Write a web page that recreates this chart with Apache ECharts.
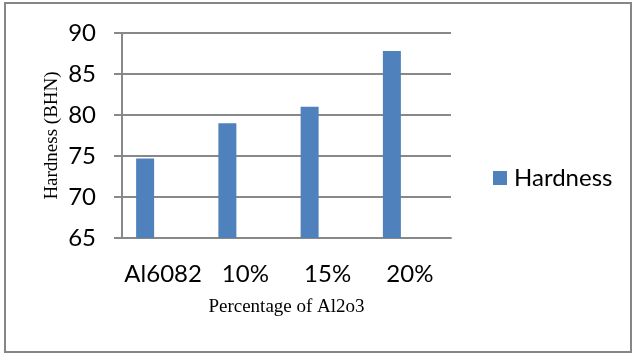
<!DOCTYPE html>
<html>
<head>
<meta charset="utf-8">
<script src="https://cdn.jsdelivr.net/npm/echarts@6/dist/echarts.min.js"></script>
<style>
html,body{margin:0;padding:0;background:#fff;}
#chart{width:636px;height:354px;}
</style>
</head>
<body>
<div id="chart"></div>
<script>
const categories = ['Al6082', '10%', '15%', '20%'];
const hardness = [74.7, 79.0, 81.0, 87.8];
const seriesName = 'Hardness';
const xTitle = 'Percentage of Al2o3';
const yTitle = 'Hardness (BHN)';
const yMin = 65, yMax = 90, yStep = 5;

const chart = echarts.init(document.getElementById('chart'), null, {renderer: 'canvas'});
const sans = 'Lato';
const serif = '"Liberation Serif", "DejaVu Serif", serif';
const gray = '#888888';

chart.setOption({
  animation: false,
  backgroundColor: '#ffffff',
  graphic: [{
    type: 'rect',
    shape: {x: 5, y: 3, width: 626, height: 349},
    style: {fill: 'none', stroke: '#868686', lineWidth: 2},
    silent: true
  }],
  grid: {left: 122, right: 185, top: 33, bottom: 116, containLabel: false},
  legend: {
    data: [seriesName],
    left: 493, top: 166,
    padding: 0,
    itemWidth: 14, itemHeight: 14,
    icon: 'rect',
    textStyle: {fontFamily: sans, fontSize: 24, color: '#000', padding: [0, 0, 0, 2]}
  },
  xAxis: {
    type: 'category',
    data: categories,
    name: xTitle,
    nameLocation: 'middle',
    nameGap: 60,
    nameMoveOverlap: false,
    nameTextStyle: {fontFamily: serif, fontSize: 19, color: '#000'},
    axisLine: {show: true, lineStyle: {color: gray, width: 2}},
    axisTick: {show: false},
    axisLabel: {interval: 0, fontFamily: sans, fontSize: 24, color: '#000', margin: 24},
    splitLine: {show: false}
  },
  yAxis: {
    type: 'value',
    min: yMin, max: yMax, interval: yStep,
    name: yTitle,
    nameLocation: 'middle',
    nameGap: 60,
    nameMoveOverlap: false,
    nameRotate: 90,
    nameTextStyle: {fontFamily: serif, fontSize: 19, color: '#000'},
    axisLine: {show: true, lineStyle: {color: gray, width: 2}},
    axisTick: {show: true, length: 8, lineStyle: {color: gray, width: 2}},
    axisLabel: {fontFamily: sans, fontSize: 24, color: '#000', margin: 26},
    splitLine: {show: true, lineStyle: {color: gray, width: 2}}
  },
  series: [
    {name: seriesName, type: 'bar', data: hardness, barWidth: 18, barGap: '0%',
     itemStyle: {color: '#4f81bd'}},
    {name: 'blank1', type: 'bar', data: [], barWidth: 18, barGap: '0%'},
    {name: 'blank2', type: 'bar', data: [], barWidth: 18, barGap: '0%'}
  ]
});
</script>
</body>
</html>
